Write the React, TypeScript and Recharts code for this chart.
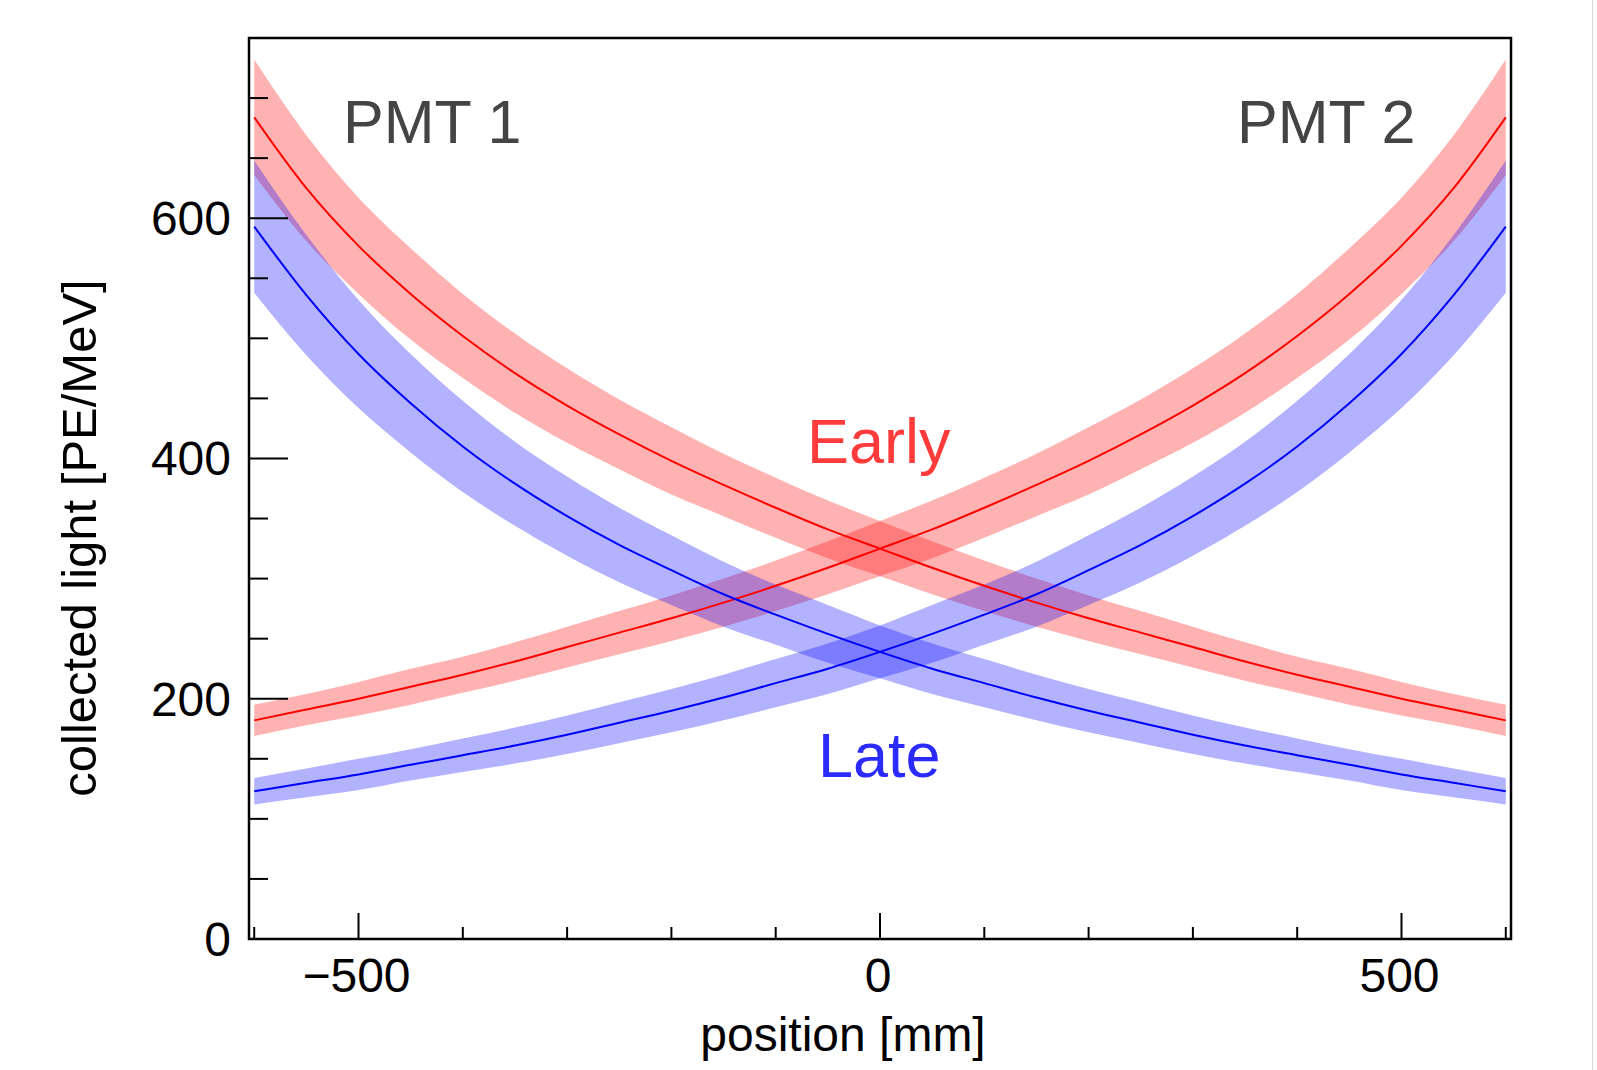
import React from 'react';
import { ComposedChart, Line, Area, XAxis, YAxis, ReferenceArea } from 'recharts';

// positions along the bar [mm]
const POSITIONS = [-600, -550, -500, -450, -400, -350, -300, -250, -200, -150, -100, -50, 0, 50, 100, 150, 200, 250, 300, 350, 400, 450, 500, 550, 600];

// collected light [PE/MeV], early component, seen by each PMT
const EARLY_PMT1 = [684, 625, 577, 537, 502, 471, 444, 420, 398, 378, 359, 341, 325, 309, 294, 280, 267, 255, 243, 231, 220, 210, 200, 191, 182];
const EARLY_PMT1_ERR = [48, 44, 40, 38, 35, 33, 31, 29, 28, 26, 25, 24, 23, 22, 21, 20, 19, 18, 17, 16, 15, 15, 14, 13, 13];
const EARLY_PMT2 = [182, 191, 200, 210, 220, 231, 243, 255, 267, 280, 294, 309, 325, 341, 359, 378, 398, 420, 444, 471, 502, 537, 577, 625, 684];
const EARLY_PMT2_ERR = [13, 13, 14, 15, 15, 16, 17, 18, 19, 20, 21, 22, 23, 24, 25, 26, 28, 29, 31, 33, 35, 38, 40, 44, 48];

// late component
const LATE_PMT1 = [593, 536, 487, 446, 410, 379, 352, 328, 307, 287, 270, 254, 239, 225, 213, 201, 190, 180, 170, 161, 153, 145, 137, 130, 123];
const LATE_PMT1_ERR = [55, 50, 45, 41, 38, 35, 33, 31, 29, 27, 25, 24, 22, 21, 20, 19, 18, 17, 16, 15, 14, 13, 13, 12, 11];
const LATE_PMT2 = [123, 130, 137, 145, 153, 161, 170, 180, 190, 201, 213, 225, 239, 254, 270, 287, 307, 328, 352, 379, 410, 446, 487, 536, 593];
const LATE_PMT2_ERR = [11, 12, 13, 13, 14, 15, 16, 17, 18, 19, 20, 21, 22, 24, 25, 27, 29, 31, 33, 35, 38, 41, 45, 50, 55];

const X_TICKS = [-600, -500, -400, -300, -200, -100, 0, 100, 200, 300, 400, 500, 600];
const X_LABELS: Record<number, string> = { [-500]: '\u2212500', 0: '0', 500: '500' };
const Y_TICKS = [0, 50, 100, 150, 200, 250, 300, 350, 400, 450, 500, 550, 600, 650, 700, 750];
const Y_LABELS: Record<number, string> = { 0: '0', 200: '200', 400: '400', 600: '600' };

const FONT = '"Liberation Sans", Arial, Helvetica, sans-serif';
const RED = '#ff0000';
const BLUE = '#0000ff';

const rows = POSITIONS.map((x, i) => ({
  x,
  e1: EARLY_PMT1[i],
  e1Band: [EARLY_PMT1[i] - EARLY_PMT1_ERR[i], EARLY_PMT1[i] + EARLY_PMT1_ERR[i]],
  e2: EARLY_PMT2[i],
  e2Band: [EARLY_PMT2[i] - EARLY_PMT2_ERR[i], EARLY_PMT2[i] + EARLY_PMT2_ERR[i]],
  l1: LATE_PMT1[i],
  l1Band: [LATE_PMT1[i] - LATE_PMT1_ERR[i], LATE_PMT1[i] + LATE_PMT1_ERR[i]],
  l2: LATE_PMT2[i],
  l2Band: [LATE_PMT2[i] - LATE_PMT2_ERR[i], LATE_PMT2[i] + LATE_PMT2_ERR[i]],
}));

// ticks point into the frame, ROOT style
const XTick = (props: any) => {
  const { x, y, payload } = props;
  const label = X_LABELS[payload.value];
  const len = label !== undefined ? 26 : 12;
  return (
    <g>
      <line x1={x} x2={x} y1={y} y2={y - len} stroke="#000" strokeWidth={2} />
      {label !== undefined && (
        <text x={x - 2} y={y + 53} textAnchor="middle" fontSize={48} fontFamily={FONT} fill="#000">
          {label}
        </text>
      )}
    </g>
  );
};

const YTick = (props: any) => {
  const { x, y, payload } = props;
  const label = Y_LABELS[payload.value];
  const len = label !== undefined ? 39 : 19;
  return (
    <g>
      <line x1={x} x2={x + len} y1={y} y2={y} stroke="#000" strokeWidth={2} />
      {label !== undefined && (
        <text x={x - 18} y={y + 17} textAnchor="end" fontSize={48} fontFamily={FONT} fill="#000">
          {label}
        </text>
      )}
    </g>
  );
};

export default function App() {
  return (
    <div style={{ position: 'absolute', left: 0, top: 0, width: 1597, height: 1070, background: '#fff' }}>
      <ComposedChart
        width={1597}
        height={1070}
        data={rows}
        margin={{ top: 38, right: 86, bottom: 71, left: 149 }}
      >
        <XAxis
          dataKey="x"
          type="number"
          domain={[-605, 605]}
          ticks={X_TICKS}
          interval={0}
          height={60}
          tickSize={0}
          tickMargin={0}
          tickLine={false}
          axisLine={false}
          tick={<XTick />}
          allowDataOverflow
        />
        <YAxis
          type="number"
          domain={[0, 750]}
          ticks={Y_TICKS}
          interval={0}
          width={100}
          tickSize={0}
          tickMargin={0}
          tickLine={false}
          axisLine={false}
          tick={<YTick />}
          allowDataOverflow
        />
        <Area dataKey="e1Band" type="monotone" stroke="none" fill={RED} fillOpacity={0.3} isAnimationActive={false} />
        <Area dataKey="e2Band" type="monotone" stroke="none" fill={RED} fillOpacity={0.3} isAnimationActive={false} />
        <Area dataKey="l1Band" type="monotone" stroke="none" fill={BLUE} fillOpacity={0.3} isAnimationActive={false} />
        <Area dataKey="l2Band" type="monotone" stroke="none" fill={BLUE} fillOpacity={0.3} isAnimationActive={false} />
        <Line dataKey="e1" type="monotone" stroke={RED} strokeWidth={2} dot={false} activeDot={false} isAnimationActive={false} />
        <Line dataKey="e2" type="monotone" stroke={RED} strokeWidth={2} dot={false} activeDot={false} isAnimationActive={false} />
        <Line dataKey="l1" type="monotone" stroke={BLUE} strokeWidth={2} dot={false} activeDot={false} isAnimationActive={false} />
        <Line dataKey="l2" type="monotone" stroke={BLUE} strokeWidth={2} dot={false} activeDot={false} isAnimationActive={false} />
        <ReferenceArea x1={-605} x2={605} y1={0} y2={750} fill="none" stroke="#000" strokeWidth={2.5} />
      </ComposedChart>
      <svg
        width={1597}
        height={1070}
        style={{ position: 'absolute', left: 0, top: 0, pointerEvents: 'none' }}
      >
        <text x={343} y={143} fontSize={61} fontFamily={FONT} fill="#444">PMT 1</text>
        <text x={1237} y={143} fontSize={61} fontFamily={FONT} fill="#444">PMT 2</text>
        <text x={807} y={463} fontSize={63} fontFamily={FONT} fill="#ff3b3b">Early</text>
        <text x={818} y={777} fontSize={63} fontFamily={FONT} fill="#2b2bff">Late</text>
        <text x={843} y={1051} fontSize={48} fontFamily={FONT} fill="#000" textAnchor="middle">position [mm]</text>
        <text
          x={96}
          y={538}
          fontSize={49}
          fontFamily={FONT}
          fill="#000"
          textAnchor="middle"
          transform="rotate(-90 96 538)"
        >
          collected light [PE/MeV]
        </text>
        <line x1={1592.5} x2={1592.5} y1={0} y2={1070} stroke="#d8d8d8" strokeWidth={1} />
      </svg>
    </div>
  );
}
